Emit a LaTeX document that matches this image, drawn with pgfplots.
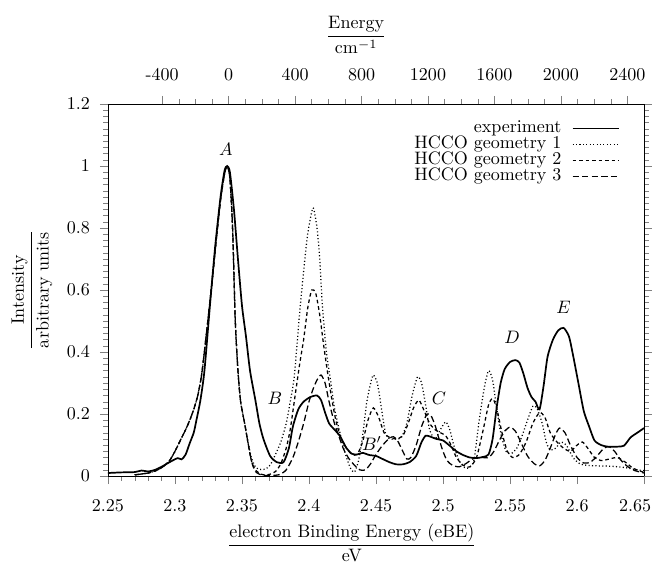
\documentclass[border=0pt]{standalone}
\usepackage{pgfplots}
\pgfplotsset{compat=1.18}
\begin{document}
\begin{tikzpicture}
\pgfplotsset{
  every tick label/.append style={font=\normalsize},
}
% top axis in wavenumbers
\begin{axis}[
  at={(0,0)}, anchor=south west,
  scale only axis, width=297.5pt, height=206.5pt,
  xmin=-725.9, xmax=2500.3, ymin=0, ymax=1.2,
  axis x line*=top, hide y axis,
  xtick={-400,0,400,800,1200,1600,2000,2400},
  xticklabels={-400,0,400,800,1200,1600,2000,2400},
  xticklabel style={yshift=5pt},
  minor x tick num=3,
  tick align=outside,
  major tick length=4.5pt, minor tick length=2.5pt,
  xlabel={$\displaystyle\frac{\mbox{Energy}}{\mbox{cm}^{-1}}$},
  xlabel style={at={(axis description cs:0.463,1)}, anchor=center, yshift=38.3pt},
]
\end{axis}
\begin{axis}[
  at={(0,0)}, anchor=south west,
  scale only axis, width=297.5pt, height=206.5pt,
  xmin=2.25, xmax=2.65, ymin=0, ymax=1.2,
  xtick={2.25,2.3,2.35,2.4,2.45,2.5,2.55,2.6},
  extra x ticks={2.65},
  extra x tick labels={$2.65$},
  extra x tick style={xticklabel style={xshift=-5pt}},
  ytick={0,0.2,0.4,0.6,0.8,1,1.2},
  minor x tick num=4, minor y tick num=9,
  xtick pos=left, ytick pos=both, yticklabel pos=left,
  xticklabel style={yshift=-5pt},
  yticklabel style={xshift=-2pt},
  tick align=outside,
  major tick length=4.5pt, minor tick length=2.5pt,
  xlabel={$\displaystyle\frac{\mbox{electron Binding Energy (eBE)}}{\mbox{eV}}$},
  xlabel style={at={(axis description cs:0.455,0)}, anchor=center, yshift=-37.2pt},
  ylabel={$\displaystyle\frac{\mbox{Intensity}}{\mbox{arbitrary units}}$},
  ylabel style={at={(axis description cs:-0.1418,0.5)}, anchor=center},
  legend style={draw=none, fill=none, at={(0.955,0.957)}, anchor=north east,
    inner sep=0pt, row sep=0pt,
    nodes={inner sep=0pt, text height=6.9pt, text depth=2pt}},
  legend cell align=right, legend plot pos=right,
  legend image code/.code={\path (0cm,0cm); \draw[#1] (0.2cm,0cm) -- (1.1cm,0cm);},
]
% experiment
\addplot[black, line width=0.95pt, smooth, tension=0.4] table {
2.250 0.010
2.260 0.012
2.270 0.013
2.275 0.018
2.280 0.015
2.285 0.020
2.290 0.030
2.296 0.045
2.302 0.058
2.305 0.054
2.308 0.070
2.311 0.106
2.314 0.140
2.316 0.180
2.319 0.245
2.322 0.340
2.326 0.545
2.330 0.740
2.334 0.900
2.337 0.985
2.339 1.000
2.341 0.980
2.344 0.860
2.347 0.700
2.350 0.550
2.353 0.450
2.356 0.340
2.360 0.245
2.363 0.170
2.366 0.120
2.371 0.065
2.376 0.045
2.381 0.045
2.385 0.090
2.388 0.160
2.392 0.215
2.396 0.240
2.401 0.255
2.406 0.260
2.409 0.245
2.412 0.205
2.415 0.170
2.419 0.150
2.423 0.130
2.428 0.090
2.432 0.072
2.436 0.070
2.440 0.075
2.445 0.068
2.450 0.065
2.455 0.055
2.460 0.045
2.465 0.038
2.470 0.038
2.475 0.045
2.480 0.065
2.484 0.110
2.487 0.130
2.490 0.128
2.495 0.120
2.500 0.115
2.505 0.098
2.510 0.080
2.515 0.068
2.520 0.060
2.525 0.058
2.530 0.062
2.534 0.070
2.537 0.120
2.540 0.220
2.543 0.300
2.546 0.345
2.550 0.368
2.554 0.374
2.557 0.366
2.560 0.330
2.563 0.285
2.566 0.255
2.569 0.240
2.572 0.215
2.575 0.290
2.578 0.385
2.582 0.440
2.586 0.470
2.590 0.478
2.594 0.450
2.597 0.390
2.601 0.300
2.605 0.210
2.609 0.160
2.613 0.115
2.618 0.100
2.623 0.095
2.630 0.095
2.635 0.098
2.640 0.125
2.645 0.140
2.650 0.155
};
\addlegendentry{experiment}
% geometry 1
\addplot[black, line width=0.7pt, dash pattern=on 0.6pt off 1.3pt, smooth, tension=0.4] table {
2.270 0.004
2.280 0.010
2.286 0.018
2.291 0.030
2.296 0.050
2.300 0.080
2.304 0.115
2.308 0.150
2.311 0.180
2.314 0.215
2.317 0.260
2.320 0.330
2.324 0.480
2.328 0.640
2.331 0.770
2.334 0.890
2.337 0.975
2.339 1.000
2.341 0.960
2.343 0.800
2.345 0.500
2.347 0.340
2.349 0.240
2.352 0.170
2.354 0.120
2.357 0.060
2.360 0.030
2.363 0.022
2.367 0.022
2.371 0.035
2.375 0.070
2.379 0.110
2.383 0.170
2.386 0.240
2.389 0.320
2.393 0.525
2.396 0.660
2.399 0.780
2.403 0.865
2.406 0.800
2.408 0.700
2.410 0.550
2.413 0.400
2.416 0.310
2.419 0.220
2.422 0.160
2.425 0.105
2.428 0.060
2.431 0.025
2.434 0.013
2.437 0.050
2.440 0.130
2.443 0.235
2.446 0.300
2.448 0.326
2.451 0.300
2.454 0.220
2.457 0.140
2.460 0.120
2.465 0.120
2.469 0.125
2.473 0.170
2.477 0.260
2.481 0.320
2.484 0.300
2.487 0.230
2.490 0.150
2.494 0.120
2.498 0.150
2.502 0.175
2.505 0.150
2.508 0.100
2.512 0.050
2.516 0.028
2.519 0.026
2.523 0.050
2.527 0.180
2.531 0.290
2.534 0.340
2.537 0.310
2.540 0.220
2.543 0.140
2.547 0.080
2.551 0.073
2.555 0.090
2.559 0.130
2.563 0.180
2.567 0.225
2.570 0.220
2.574 0.170
2.577 0.110
2.580 0.084
2.584 0.090
2.588 0.110
2.592 0.100
2.597 0.060
2.602 0.040
2.607 0.035
2.615 0.033
2.625 0.032
2.635 0.028
2.645 0.020
2.650 0.018
};
\addlegendentry{HCCO geometry 1}
% geometry 2
\addplot[black, line width=0.7pt, dash pattern=on 2pt off 1.6pt, smooth, tension=0.4] table {
2.270 0.004
2.280 0.010
2.286 0.018
2.291 0.030
2.296 0.050
2.300 0.080
2.304 0.115
2.308 0.150
2.311 0.180
2.314 0.215
2.317 0.260
2.320 0.330
2.324 0.480
2.328 0.640
2.331 0.770
2.334 0.890
2.337 0.975
2.339 1.000
2.341 0.960
2.343 0.800
2.345 0.500
2.347 0.340
2.349 0.240
2.352 0.170
2.354 0.120
2.357 0.050
2.360 0.020
2.365 0.005
2.370 0.005
2.375 0.015
2.379 0.040
2.383 0.090
2.386 0.150
2.389 0.240
2.393 0.360
2.396 0.440
2.399 0.540
2.402 0.600
2.405 0.590
2.408 0.520
2.411 0.420
2.414 0.330
2.417 0.250
2.420 0.180
2.424 0.120
2.428 0.090
2.432 0.070
2.436 0.070
2.440 0.110
2.444 0.180
2.448 0.220
2.452 0.190
2.456 0.140
2.460 0.125
2.465 0.120
2.470 0.130
2.474 0.170
2.478 0.220
2.482 0.245
2.486 0.210
2.490 0.170
2.494 0.150
2.498 0.140
2.502 0.130
2.506 0.100
2.510 0.060
2.515 0.035
2.520 0.030
2.525 0.060
2.530 0.150
2.534 0.230
2.537 0.250
2.540 0.220
2.544 0.140
2.548 0.080
2.552 0.060
2.557 0.070
2.562 0.110
2.567 0.170
2.572 0.205
2.576 0.190
2.580 0.140
2.585 0.110
2.590 0.090
2.595 0.080
2.600 0.100
2.604 0.110
2.608 0.090
2.613 0.060
2.618 0.050
2.624 0.055
2.630 0.060
2.636 0.045
2.642 0.025
2.650 0.012
};
\addlegendentry{HCCO geometry 2}
% geometry 3
\addplot[black, line width=0.7pt, dash pattern=on 3.5pt off 1.8pt, smooth, tension=0.4] table {
2.270 0.004
2.280 0.010
2.286 0.018
2.291 0.030
2.296 0.050
2.300 0.080
2.304 0.115
2.308 0.150
2.311 0.180
2.314 0.215
2.317 0.260
2.320 0.330
2.324 0.480
2.328 0.640
2.331 0.770
2.334 0.890
2.337 0.975
2.339 1.000
2.341 0.960
2.343 0.800
2.345 0.500
2.347 0.340
2.349 0.240
2.352 0.170
2.354 0.120
2.357 0.050
2.360 0.015
2.365 0.003
2.372 0.002
2.378 0.005
2.383 0.020
2.388 0.060
2.392 0.110
2.396 0.170
2.400 0.240
2.403 0.280
2.406 0.310
2.409 0.326
2.412 0.300
2.415 0.240
2.419 0.170
2.423 0.120
2.426 0.085
2.430 0.055
2.434 0.035
2.438 0.020
2.442 0.020
2.446 0.040
2.450 0.070
2.455 0.100
2.460 0.122
2.463 0.127
2.466 0.115
2.470 0.080
2.473 0.055
2.476 0.060
2.480 0.100
2.484 0.160
2.488 0.200
2.491 0.195
2.494 0.165
2.497 0.120
2.500 0.080
2.503 0.050
2.507 0.035
2.512 0.030
2.517 0.040
2.522 0.055
2.528 0.060
2.534 0.060
2.538 0.080
2.542 0.115
2.546 0.145
2.550 0.158
2.554 0.145
2.558 0.110
2.563 0.065
2.568 0.040
2.572 0.033
2.576 0.050
2.580 0.090
2.584 0.135
2.587 0.155
2.591 0.140
2.595 0.100
2.600 0.060
2.605 0.042
2.610 0.045
2.615 0.065
2.620 0.090
2.624 0.095
2.628 0.080
2.633 0.050
2.638 0.030
2.643 0.018
2.650 0.010
};
\addlegendentry{HCCO geometry 3}
\node at (axis cs:2.338,1.055) {$A$};
\node at (axis cs:2.3746,0.252) {$B$};
\node at (axis cs:2.447,0.106) {$B'$};
\node at (axis cs:2.497,0.25) {$C$};
\node at (axis cs:2.5515,0.449) {$D$};
\node at (axis cs:2.59,0.545) {$E$};
\end{axis}
\pgfresetboundingbox
\useasboundingbox (-59.9pt,-48.8pt) rectangle (301.9pt,264.2pt);
\end{tikzpicture}
\end{document}
